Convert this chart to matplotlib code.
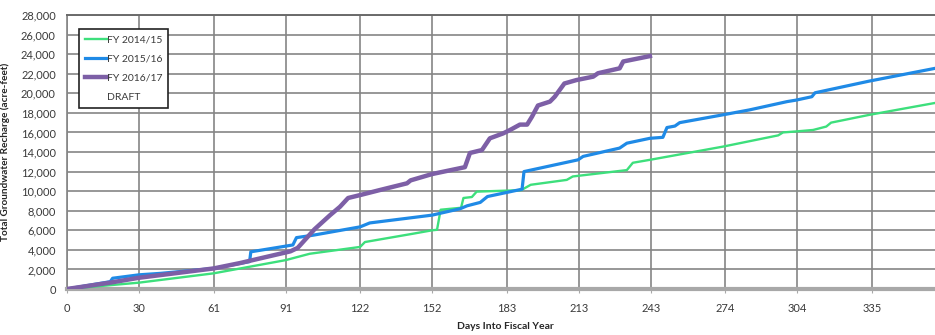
import matplotlib
matplotlib.use("Agg")
import matplotlib.pyplot as plt
from matplotlib.lines import Line2D

# ---- data ----
days_1415 = [0, 30, 61, 91, 101, 122, 124, 144, 152, 154, 155.5, 164, 165, 168.5, 170.5,
             189, 193, 208, 210.5, 233, 235.5, 242.6, 273, 296, 298, 303.4, 310.5, 316,
             318, 334, 361, 365]
vals_1415 = [0, 650, 1600, 2950, 3600, 4300, 4800, 5650, 6000, 6050, 8100, 8300, 9300, 9400, 9950,
             10100, 10650, 11150, 11500, 12150, 12900, 13200, 14550, 15700, 16000, 16100, 16250, 16600,
             17000, 17800, 19000, 19150]

days_1516 = [0, 18, 19, 30, 39, 61, 76, 76.5, 94, 95.5, 102.5, 122, 126, 152, 163.6, 166.5,
             172, 175, 189.4, 190.2, 212.7, 214.8, 230, 233, 242.6, 248, 249.7, 253, 255, 273,
             284, 299.7, 303.4, 310, 311.3, 334, 361.3, 365]
vals_1516 = [0, 750, 1100, 1450, 1600, 2100, 2800, 3800, 4500, 5250, 5500, 6350, 6750, 7550, 8200, 8500,
             8850, 9450, 10200, 12000, 13200, 13550, 14400, 14900, 15400, 15500, 16500, 16650, 17000, 17800,
             18300, 19150, 19300, 19650, 20050, 21250, 22550, 22700]

days_1617 = [0, 18, 30, 61, 72, 93, 96, 103, 109.5, 113.6, 117, 122, 130, 141.5, 143, 152, 165.6,
             167.7, 172.7, 176, 181.5, 184.4, 188.5, 191.5, 193.5, 196, 201, 203, 207, 212, 219,
             221, 230, 231.5, 242.6]
vals_1617 = [0, 650, 1150, 2100, 2650, 3850, 4200, 6100, 7550, 8400, 9300, 9600, 10100, 10800, 11100, 11750, 12450,
             13900, 14200, 15400, 15900, 16250, 16800, 16800, 17600, 18750, 19150, 19650, 21000, 21350, 21700,
             22050, 22550, 23250, 23800]

x_ticks = [0, 30, 61, 91, 122, 152, 183, 213, 243, 274, 304, 335, 365]
y_ticks = list(range(0, 28001, 2000))
series_labels = ["FY 2014/15", "FY 2015/16", "FY 2016/17"]
note_label = "DRAFT"

plt.rcParams['font.family'] = ['Lato', 'DejaVu Sans']

fig = plt.figure(figsize=(9.35, 3.35), dpi=100)
ax = fig.add_axes([67/935, 46/335, 877/935, 274/335])

ax.plot(days_1415, vals_1415, color='#3ddf7c', lw=1.7, label=series_labels[0], zorder=3)
ax.plot(days_1516, vals_1516, color='#1f8ae6', lw=2.3, label=series_labels[1], zorder=4)
ax.plot(days_1617, vals_1617, color='#7d5fa6', lw=3.2, label=series_labels[2], zorder=5)

ax.set_xlim(0, 365)
ax.set_ylim(0, 28000)
ax.set_xticks(x_ticks)
ax.set_yticks(y_ticks)
ax.set_yticklabels([f"{v:,}" for v in y_ticks])
ax.grid(True, color='#858585', lw=1.2, zorder=0)
ax.set_axisbelow(True)

ax.spines['right'].set_visible(False)
ax.spines['top'].set_color('#6a6a6a')
ax.spines['top'].set_linewidth(1.4)
ax.spines['left'].set_color('#858585')
ax.spines['left'].set_linewidth(1.2)
ax.spines['bottom'].set_color('#a8a8a8')
ax.spines['bottom'].set_linewidth(3.0)

ax.tick_params(axis='y', length=0, pad=8, labelsize=8, colors='#3a3a3a')
ax.tick_params(axis='x', length=3, pad=7, labelsize=8, colors='#3a3a3a', color='#a8a8a8')

ax.set_xlabel("Days Into Fiscal Year", fontsize=7.5, fontweight='bold', labelpad=6, color='#262626')
ax.set_ylabel("Total Groundwater Recharge (acre-feet)", fontsize=7.2, fontweight='bold', labelpad=8, color='#262626')

handles, labels = ax.get_legend_handles_labels()
handles.append(Line2D([], [], color='none'))
labels.append(note_label)
leg = ax.legend(handles, labels, loc='upper left', bbox_to_anchor=(0.0137, 0.948),
                fontsize=7.5, handlelength=2.1, handletextpad=0.0, labelspacing=0.95,
                borderpad=0.55, fancybox=False, framealpha=1, edgecolor='#222222',
                borderaxespad=0)
leg.get_frame().set_linewidth(1.2)
for t in leg.get_texts():
    t.set_color('#3a3a3a')

fig.savefig("out.png", dpi=100)
